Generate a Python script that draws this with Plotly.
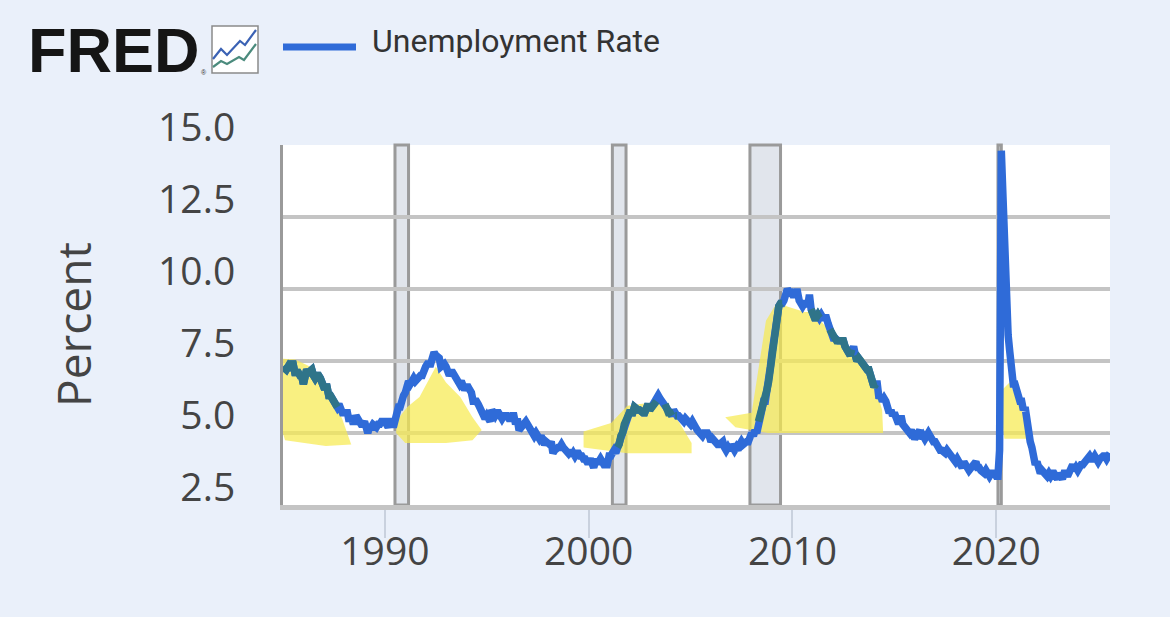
import plotly.graph_objects as go
import pandas as pd

# ---------------- data ----------------
start_month = "1985-01-01"
unrate = [
    7.3, 7.2, 7.2, 7.3, 7.2, 7.4, 7.4, 7.1, 7.1, 7.1, 7.0, 7.0,   # 1985
    6.7, 7.2, 7.2, 7.1, 7.2, 7.2, 7.0, 6.9, 7.0, 7.0, 6.9, 6.6,   # 1986
    6.6, 6.6, 6.6, 6.3, 6.3, 6.2, 6.1, 6.0, 5.9, 6.0, 5.8, 5.7,   # 1987
    5.7, 5.7, 5.7, 5.4, 5.6, 5.4, 5.4, 5.6, 5.4, 5.4, 5.3, 5.3,   # 1988
    5.4, 5.2, 5.0, 5.2, 5.2, 5.3, 5.2, 5.2, 5.3, 5.3, 5.4, 5.4,   # 1989
    5.4, 5.3, 5.2, 5.4, 5.4, 5.2, 5.5, 5.7, 5.9, 5.9, 6.2, 6.3,   # 1990
    6.4, 6.6, 6.8, 6.7, 6.9, 6.9, 6.8, 6.9, 6.9, 7.0, 7.0, 7.3,   # 1991
    7.3, 7.4, 7.4, 7.4, 7.6, 7.8, 7.7, 7.6, 7.6, 7.3, 7.4, 7.4,   # 1992
    7.3, 7.1, 7.0, 7.1, 7.1, 7.0, 6.9, 6.8, 6.7, 6.8, 6.6, 6.5,   # 1993
    6.6, 6.6, 6.5, 6.4, 6.1, 6.1, 6.1, 6.0, 5.9, 5.8, 5.6, 5.5,   # 1994
    5.6, 5.4, 5.4, 5.8, 5.6, 5.6, 5.7, 5.7, 5.6, 5.5, 5.6, 5.6,   # 1995
    5.6, 5.5, 5.5, 5.6, 5.6, 5.3, 5.5, 5.1, 5.2, 5.2, 5.4, 5.4,   # 1996
    5.3, 5.2, 5.2, 5.1, 4.9, 5.0, 4.9, 4.8, 4.9, 4.7, 4.6, 4.7,   # 1997
    4.6, 4.6, 4.7, 4.3, 4.4, 4.5, 4.5, 4.5, 4.6, 4.5, 4.4, 4.4,   # 1998
    4.3, 4.4, 4.2, 4.3, 4.2, 4.3, 4.3, 4.2, 4.2, 4.1, 4.1, 4.0,   # 1999
    4.0, 4.1, 4.0, 3.8, 4.0, 4.0, 4.0, 4.1, 3.9, 3.9, 3.9, 3.9,   # 2000
    4.2, 4.2, 4.3, 4.4, 4.3, 4.5, 4.6, 4.9, 5.0, 5.3, 5.5, 5.7,   # 2001
    5.7, 5.7, 5.7, 5.9, 5.8, 5.8, 5.8, 5.7, 5.7, 5.7, 5.9, 6.0,   # 2002
    5.8, 5.9, 5.9, 6.0, 6.1, 6.3, 6.2, 6.1, 6.1, 6.0, 5.8, 5.7,   # 2003
    5.7, 5.6, 5.8, 5.6, 5.6, 5.6, 5.5, 5.4, 5.4, 5.5, 5.4, 5.4,   # 2004
    5.3, 5.4, 5.2, 5.2, 5.1, 5.0, 5.0, 4.9, 5.0, 5.0, 5.0, 4.9,   # 2005
    4.7, 4.8, 4.7, 4.7, 4.6, 4.6, 4.7, 4.7, 4.5, 4.4, 4.5, 4.4,   # 2006
    4.6, 4.5, 4.4, 4.5, 4.4, 4.6, 4.7, 4.6, 4.7, 4.7, 4.7, 5.0,   # 2007
    5.0, 4.9, 5.1, 5.0, 5.4, 5.6, 5.8, 6.1, 6.1, 6.5, 6.8, 7.3,   # 2008
    7.8, 8.3, 8.7, 9.0, 9.4, 9.5, 9.5, 9.6, 9.8, 10.0, 9.9, 9.9,  # 2009
    9.8, 9.8, 9.9, 9.9, 9.6, 9.4, 9.4, 9.5, 9.5, 9.4, 9.8, 9.3,   # 2010
    9.1, 9.0, 9.0, 9.1, 9.0, 9.1, 9.0, 9.0, 9.0, 8.8, 8.6, 8.5,   # 2011
    8.3, 8.3, 8.2, 8.2, 8.2, 8.2, 8.2, 8.0, 7.8, 7.8, 7.7, 7.9,   # 2012
    8.0, 7.7, 7.5, 7.6, 7.5, 7.5, 7.3, 7.2, 7.2, 7.2, 6.9, 6.7,   # 2013
    6.6, 6.7, 6.7, 6.2, 6.3, 6.1, 6.2, 6.1, 5.9, 5.7, 5.8, 5.6,   # 2014
    5.7, 5.5, 5.4, 5.4, 5.6, 5.3, 5.2, 5.1, 5.0, 5.0, 5.1, 5.0,   # 2015
    4.8, 4.9, 5.0, 5.1, 4.8, 4.9, 4.8, 4.9, 5.0, 4.9, 4.7, 4.7,   # 2016
    4.7, 4.6, 4.4, 4.4, 4.4, 4.3, 4.3, 4.4, 4.3, 4.2, 4.2, 4.1,   # 2017
    4.0, 4.1, 4.0, 4.0, 3.8, 4.0, 3.8, 3.8, 3.7, 3.8, 3.8, 3.9,   # 2018
    4.0, 3.8, 3.8, 3.7, 3.6, 3.6, 3.7, 3.6, 3.5, 3.6, 3.6, 3.6,   # 2019
    3.5, 3.5, 4.4, 14.8, 13.2, 11.0, 10.2, 8.4, 7.8, 6.8, 6.7, 6.7,  # 2020
    6.4, 6.2, 6.1, 6.1, 5.8, 5.9, 5.4, 5.1, 4.7, 4.5, 4.2, 3.9,   # 2021
    4.0, 3.8, 3.6, 3.7, 3.6, 3.6, 3.5, 3.6, 3.5, 3.6, 3.6, 3.5,   # 2022
    3.4, 3.6, 3.5, 3.4, 3.6, 3.6, 3.5, 3.7, 3.8, 3.9, 3.7, 3.8,   # 2023
    3.7, 3.9, 3.9, 3.9, 4.0, 4.1, 4.2, 4.2, 4.1, 4.1, 4.2, 4.1,   # 2024
    4.0, 4.1, 4.2, 4.2, 4.2, 4.1, 4.2, 4.3,                       # 2025
]

rec_start = ["1990-07-01", "2001-03-01", "2007-12-01", "2020-02-01"]
rec_end = ["1991-03-01", "2001-11-01", "2009-06-01", "2020-04-01"]

y_ticks = [2.5, 5.0, 7.5, 10.0, 12.5, 15.0]
y_tick_text = ["2.5", "5.0", "7.5", "10.0", "12.5", "15.0"]

series_name = "Unemployment Rate"
y_title = "Percent"

# hand-drawn yellow highlighter strokes (decimal year, percent)
hl1_x = [1984.5, 1985.6, 1986.5, 1987.3, 1987.9, 1988.35, 1987.1, 1985.1, 1984.6]
hl1_y = [7.6, 7.55, 7.25, 6.35, 5.5, 4.6, 4.55, 4.75, 5.9]
hl2_x = [1990.6, 1991.1, 1991.7, 1992.5, 1993.0, 1993.7, 1994.3, 1994.75, 1994.3, 1993.0, 1991.0, 1990.55]
hl2_y = [5.45, 5.9, 6.25, 7.3, 6.75, 6.25, 5.55, 5.1, 4.75, 4.65, 4.65, 5.0]
hl3_x = [1999.75, 2001.1, 2001.9, 2003.0, 2003.6, 2004.2, 2005.05, 2005.05, 2001.9, 1999.75]
hl3_y = [5.05, 5.35, 5.95, 6.05, 6.0, 5.65, 4.65, 4.3, 4.3, 4.5]
hl4_x = [2006.7, 2008.0, 2008.7, 2009.3, 2009.7, 2010.6, 2011.0, 2012.0, 2013.0, 2013.5, 2014.0, 2014.4, 2014.45, 2011.3, 2008.8, 2007.2]
hl4_y = [5.55, 5.7, 8.9, 9.6, 9.4, 9.2, 9.2, 8.4, 7.8, 7.6, 6.8, 5.8, 5.0, 5.0, 5.0, 5.2]
hl5_x = [2020.3, 2020.65, 2021.4, 2021.5, 2020.4, 2020.25]
hl5_y = [6.5, 6.75, 5.55, 4.8, 4.8, 5.55]

# ---------------- helpers ----------------
dates = pd.date_range(start_month, periods=len(unrate), freq="MS")
dec_years = [d.year + (d.month - 1) / 12 for d in dates]


def to_date(dy):
    yr = int(dy)
    return pd.Timestamp(year=yr, month=1, day=1) + pd.Timedelta(days=(dy - yr) * 365.25)


def inside(px_, py_, xs, ys):
    c = False
    n = len(xs)
    j = n - 1
    for i in range(n):
        if (ys[i] > py_) != (ys[j] > py_):
            xint = xs[i] + (py_ - ys[i]) * (xs[j] - xs[i]) / (ys[j] - ys[i])
            if px_ < xint:
                c = not c
        j = i
    return c


highlights = [(hl1_x, hl1_y), (hl2_x, hl2_y), (hl3_x, hl3_y), (hl4_x, hl4_y), (hl5_x, hl5_y)]

# plot area in pixels (for placing the header decorations)
W, H = 1170, 617
ML, MR, MT, MB = 283, 60, 145, 112
PW, PH = W - ML - MR, H - MT - MB


def px(x):
    return (x - ML) / PW


def py(y):
    return (H - MB - y) / PH


LINE_BLUE = "#2f6bd8"
TEAL = "#2f7489"

fig = go.Figure()

# yellow highlighter fills
for hx, hy in highlights:
    fig.add_trace(go.Scatter(
        x=[to_date(v) for v in hx] + [to_date(hx[0])],
        y=list(hy) + [hy[0]],
        mode="lines", fill="toself",
        fillcolor="rgba(247,234,80,0.72)",
        line=dict(width=0), hoverinfo="skip", showlegend=False,
    ))

# main series
fig.add_trace(go.Scatter(
    x=dates, y=unrate, mode="lines", name=series_name,
    line=dict(color=LINE_BLUE, width=7.5), showlegend=False,
))

# portions of the line covered by highlighter (blue seen through yellow)
covered = []
for dy, v in zip(dec_years, unrate):
    hit = any(inside(dy, v - 0.12, hx, hy) for hx, hy in highlights)
    covered.append(v if hit else None)
fig.add_trace(go.Scatter(
    x=dates, y=covered, mode="lines", connectgaps=False,
    line=dict(color=TEAL, width=7.5), hoverinfo="skip", showlegend=False,
))

# recession shading
shapes = []
for s, e in zip(rec_start, rec_end):
    shapes.append(dict(
        type="rect", xref="x", yref="paper", x0=s, x1=e, y0=0, y1=1,
        fillcolor="#e1e5ec", line=dict(color="#9a9a9a", width=3), layer="below",
    ))

# legend swatch
shapes.append(dict(type="line", xref="paper", yref="paper",
                   x0=px(283), x1=px(356), y0=py(47), y1=py(47),
                   line=dict(color=LINE_BLUE, width=7)))

# FRED icon box with two zigzag lines
shapes.append(dict(type="rect", xref="paper", yref="paper",
                   x0=px(212), x1=px(258), y0=py(73), y1=py(26),
                   fillcolor="white", line=dict(color="#8a8a8a", width=1.5)))
blue_pts = [(213, 59), (221, 49), (227, 55), (240, 41), (245, 45), (256, 30)]
teal_pts = [(213, 67), (221, 61), (227, 64), (239, 57), (244, 60), (256, 44)]
for pts, col in [(blue_pts, "#3b62b4"), (teal_pts, "#4b8b7d")]:
    path = "M " + " L ".join(f"{px(a):.5f},{py(b):.5f}" for a, b in pts)
    shapes.append(dict(type="path", xref="paper", yref="paper", path=path,
                       line=dict(color=col, width=2.2)))

annotations = [
    dict(text="<b>FRED</b>", xref="paper", yref="paper", x=px(26), y=py(50),
         xanchor="left", yanchor="middle", showarrow=False,
         font=dict(family="Liberation Sans", size=63, color="#151515")),
    dict(text="®", xref="paper", yref="paper", x=px(204), y=py(72),
         xanchor="center", yanchor="middle", showarrow=False,
         font=dict(family="Liberation Sans", size=7, color="#333")),
    dict(text=series_name, xref="paper", yref="paper", x=px(370), y=py(41),
         xanchor="left", yanchor="middle", showarrow=False,
         font=dict(family="Roboto", size=32, color="#333333")),
    dict(text=y_title, xref="paper", yref="paper", x=px(73), y=0.5,
         xanchor="center", yanchor="middle", showarrow=False, textangle=-90,
         font=dict(family="Open Sans", size=46, color="#444444")),
]

fig.update_layout(
    width=W, height=H, autosize=False,
    margin=dict(l=ML, r=MR, t=MT, b=MB),
    paper_bgcolor="#eaf0fa", plot_bgcolor="white",
    shapes=shapes, annotations=annotations, showlegend=False,
)

fig.update_xaxes(
    type="date", range=[dates[0], dates[-1]],
    tick0="1990-01-01", dtick="M120", tickformat="%Y",
    ticks="outside", ticklen=28, tickwidth=2, tickcolor="#c9d1de",
    ticklabelstandoff=-20,
    showgrid=False, zeroline=False,
    showline=True, linecolor="#c4c4c4", linewidth=5,
    tickfont=dict(family="Open Sans", size=39, color="#444444"),
)

fig.update_yaxes(
    range=[2.5, 15.0], tickvals=y_ticks, ticktext=y_tick_text,
    showgrid=True, gridcolor="#c4c4c4", gridwidth=4, zeroline=False,
    showline=True, linecolor="#9a9a9a", linewidth=3,
    ticks="", ticklabelstandoff=37, ticklabelshift=-18,
    tickfont=dict(family="Open Sans", size=39, color="#444444"),
)

fig.write_html(
    "out.html",
    config={"displayModeBar": False},
    post_script="document.body.style.margin='0';document.body.style.background='#eaf0fa';",
)
